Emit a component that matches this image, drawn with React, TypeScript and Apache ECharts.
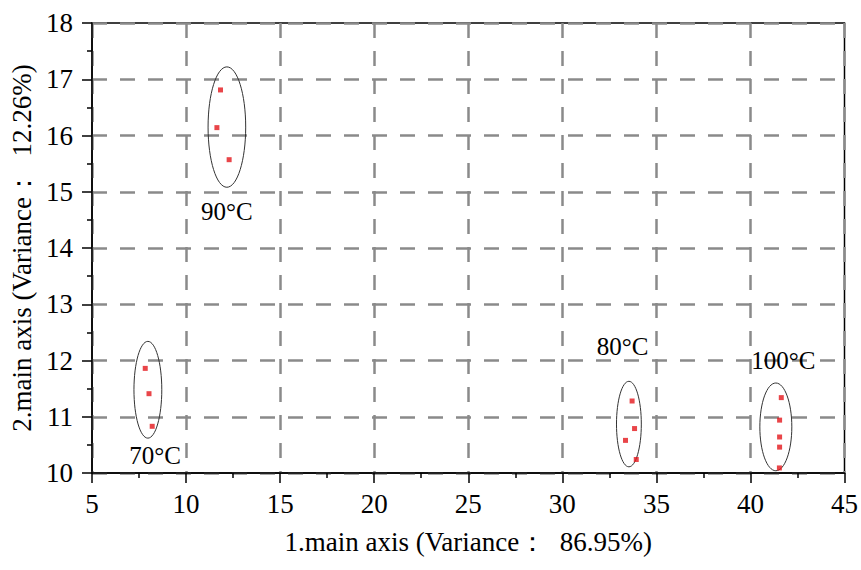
import React, { useEffect, useRef } from "react";
import * as echarts from "echarts";

const xTitle = "1.main axis (Variance：  86.95%)";
const yTitle = "2.main axis (Variance：  12.26%)";

// sample points [PC1, PC2]
const points70 = [[7.83, 11.86], [8.03, 11.41], [8.2, 10.83]];
const points90 = [[11.83, 16.81], [11.64, 16.14], [12.29, 15.57]];
const points80 = [[33.71, 11.28], [33.84, 10.79], [33.36, 10.58], [33.93, 10.24]];
const points100 = [[41.64, 11.34], [41.55, 10.94], [41.55, 10.64], [41.55, 10.46], [41.54, 10.09]];

// cluster ellipses [cx, cy, rx, ry] in data units
const ellipses = [
  [7.97, 11.48, 0.74, 0.86],
  [12.17, 16.15, 1.0, 1.07],
  [33.54, 10.87, 0.66, 0.76],
  [41.35, 10.82, 0.85, 0.78],
];

// cluster labels
const labelNames = ["70°C", "90°C", "80°C", "100°C"];
const labelPos = [
  [8.35, 10.32],
  [12.17, 14.65],
  [33.2, 12.25],
  [41.75, 12.0],
];

const FONT = "Times New Roman, Liberation Serif, serif";

export default function App() {
  const ref = useRef<HTMLDivElement>(null);
  useEffect(() => {
    document.body.style.margin = "0";
    if (!ref.current) return;
    const chart = echarts.init(ref.current, null, { renderer: "svg" });
    const allPoints = [...points70, ...points90, ...points80, ...points100];
    const gridLine = {
      show: true,
      lineStyle: { color: "#8a8a8a", width: 2.5, type: [15, 13] as any },
    };
    const tickLabel = {
      fontFamily: "serif",
      fontSize: 27,
      color: "#000",
    };
    chart.setOption({
      animation: false,
      backgroundColor: "#fff",
      textStyle: { fontFamily: FONT },
      grid: {
        left: 92,
        right: 16,
        top: 23,
        bottom: 97,
        show: true,
        borderColor: "#000",
        borderWidth: 1.5,
        backgroundColor: "transparent",
      },
      xAxis: {
        type: "value",
        min: 5,
        max: 45,
        interval: 5,
        name: xTitle,
        nameLocation: "middle",
        nameGap: 55,
        nameTextStyle: { fontFamily: FONT, fontSize: 27, color: "#000" },
        axisLine: { show: true, onZero: false, lineStyle: { color: "#000", width: 1.5 } },
        axisTick: { show: true, inside: false, length: 10, lineStyle: { color: "#000", width: 1.5 } },
        minorTick: { show: true, splitNumber: 2, length: 5, lineStyle: { color: "#000", width: 1.5 } },
        axisLabel: { ...tickLabel, margin: 17 },
        splitLine: gridLine,
      },
      yAxis: {
        type: "value",
        min: 10,
        max: 18,
        interval: 1,
        name: yTitle,
        nameLocation: "middle",
        nameRotate: 90,
        nameGap: 51,
        nameTextStyle: { fontFamily: FONT, fontSize: 27, color: "#000" },
        axisLine: { show: true, onZero: false, lineStyle: { color: "#000", width: 1.5 } },
        axisTick: { show: true, inside: false, length: 10, lineStyle: { color: "#000", width: 1.5 } },
        minorTick: { show: true, splitNumber: 2, length: 5, lineStyle: { color: "#000", width: 1.5 } },
        axisLabel: { ...tickLabel, margin: 19 },
        splitLine: gridLine,
      },
      series: [
        {
          type: "scatter",
          data: allPoints,
          symbol: "rect",
          symbolSize: 5,
          itemStyle: { color: "#e3161b" },
          z: 5,
        },
        {
          type: "custom",
          data: ellipses,
          clip: false,
          z: 4,
          renderItem: (params: any, api: any) => {
            const c = api.coord([api.value(0), api.value(1)]);
            const s = api.size([api.value(2), api.value(3)]);
            return {
              type: "ellipse",
              shape: { cx: c[0], cy: c[1], rx: s[0], ry: s[1] },
              style: { fill: "none", stroke: "#333", lineWidth: 1 },
            };
          },
        },
        {
          type: "custom",
          data: labelPos,
          clip: false,
          z: 6,
          renderItem: (params: any, api: any) => {
            const c = api.coord([api.value(0), api.value(1)]);
            return {
              type: "text",
              x: c[0],
              y: c[1],
              style: {
                text: labelNames[params.dataIndex],
                fontFamily: FONT,
                fontSize: 25,
                fill: "#000",
                align: "center",
                verticalAlign: "middle",
              },
            };
          },
        },
      ],
    });
    return () => chart.dispose();
  }, []);
  return <div ref={ref} style={{ width: 861, height: 570 }} />;
}
